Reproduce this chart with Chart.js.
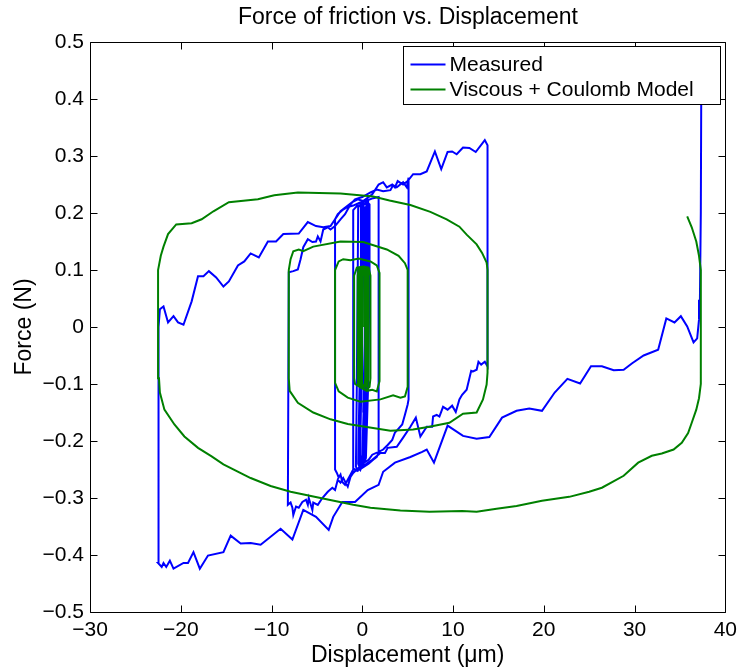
<!DOCTYPE html>
<html>
<head>
<meta charset="utf-8">
<script src="https://cdn.jsdelivr.net/npm/chart.js@4.4.1/dist/chart.umd.min.js"></script>
<style>
  html, body { margin: 0; padding: 0; background: #fff; }
  #wrap { width: 743px; height: 669px; }
</style>
</head>
<body>
<div id="wrap"><canvas id="frictionChart" width="743" height="669"></canvas></div>
<script>
// axis ticks
const xTicks = [-30, -20, -10, 0, 10, 20, 30, 40];
const yTicks = [-0.5, -0.4, -0.3, -0.2, -0.1, 0, 0.1, 0.2, 0.3, 0.4, 0.5];
const seriesNames = ["Measured", "Viscous + Coulomb Model"];

// measured force, [displacement um, force N], in time order
const measuredSweep0 = [
  [37.35,0.42],[37.3,0.2],[37.2,0.048],[37.1,0.013],[36.9,-0.02],[36.5,-0.027],[35.8,0.001],
  [35.1,0.019],[34.4,0.008],[33.5,0.015],[32.6,-0.04],[31.0,-0.05],[29.7,-0.064],[28.8,-0.075],
  [27.7,-0.076],[26.4,-0.069],[25.2,-0.069],[24.0,-0.099],[22.6,-0.091],[21.2,-0.115],[19.8,-0.147],
  [18.4,-0.143],[17.0,-0.147],[15.4,-0.159],[14.0,-0.193],[12.6,-0.196],[11.1,-0.191],[9.4,-0.173],
  [7.9,-0.238],[7.1,-0.215],[6.6,-0.219],[5.3,-0.228],[3.6,-0.238],[2.3,-0.254],[1.8,-0.277],
  [0.6,-0.286],[-0.8,-0.307],[-2.2,-0.307],[-3.2,-0.333],[-3.7,-0.356],[-5.1,-0.333],[-6.5,-0.321],
  [-7.7,-0.373],[-9.0,-0.354],[-11.2,-0.382],[-12.3,-0.379],[-13.4,-0.38],[-14.5,-0.366],
  [-15.3,-0.395],[-17.0,-0.401],[-17.9,-0.424],[-18.6,-0.395],[-19.2,-0.414],[-19.7,-0.414],
  [-20.8,-0.424],[-21.2,-0.41],[-21.6,-0.421],[-21.9,-0.414],[-22.1,-0.421],[-22.5,-0.414],[-22.5,-0.391]
];
const measuredSweep1 = [
  [-22.4,0.0],[-22.3,0.031],[-21.9,0.036],[-21.4,0.008],[-20.8,0.019],[-20.3,0.008],[-19.7,0.004],
  [-18.8,0.045],[-18.1,0.089],[-17.5,0.089],[-16.9,0.098],[-16.1,0.087],[-15.3,0.071],[-14.7,0.08],
  [-13.7,0.108],[-13.0,0.115],[-12.3,0.129],[-11.4,0.122],[-10.4,0.15],[-9.5,0.15],[-8.7,0.163],
  [-7.0,0.164],[-6.0,0.184],[-5.1,0.177],[-4.3,0.175],[-3.5,0.177],[-2.4,0.203],[-1.1,0.219],
  [-0.5,0.224],[0.1,0.221],[1.1,0.233],[1.8,0.25],[2.3,0.254],[2.7,0.245],[3.3,0.25],[3.6,0.245],
  [3.9,0.256],[4.5,0.25],[5.0,0.256],[5.6,0.268],[6.4,0.268],[7.1,0.273],[8.0,0.308],[8.7,0.277],
  [9.4,0.307],[9.9,0.308],[10.4,0.303],[11.1,0.315],[11.8,0.314],[12.5,0.307],[13.5,0.328],[13.8,0.319],
  [13.8,-0.069],[13.5,-0.061],[13.1,-0.066],[12.8,-0.061],[12.6,-0.075],[12.2,-0.078],[12.0,-0.077],
  [11.5,-0.11],[11.0,-0.119],[10.7,-0.127],[10.3,-0.149],[9.9,-0.138],[9.4,-0.145],[8.9,-0.14],
  [8.5,-0.157],[8.2,-0.154],[7.8,-0.157],[7.7,-0.175],[7.1,-0.175],[6.4,-0.192],[5.9,-0.159],
  [5.3,-0.175],[4.5,-0.194],[3.8,-0.21],[2.8,-0.212],[2.5,-0.221],[2.0,-0.221],[1.1,-0.233],
  [0.3,-0.242],[-0.4,-0.247],[-1.0,-0.256],[-1.3,-0.263],[-1.6,-0.28],[-2.1,-0.265],[-2.4,-0.273],
  [-2.7,-0.268],[-3.0,-0.286],[-3.3,-0.282],[-3.8,-0.289],[-4.4,-0.3],[-4.9,-0.312],[-5.4,-0.308],
  [-5.5,-0.321],[-5.9,-0.3],[-6.0,-0.312],[-6.2,-0.303],[-6.6,-0.307],[-7.0,-0.317],[-7.3,-0.315],
  [-7.6,-0.33],[-7.7,-0.317],[-7.9,-0.308],[-8.2,-0.312]
];
const measuredSweep2 = [
  [-8.1,0.096],[-7.6,0.098],[-7.1,0.101],[-6.8,0.119],[-6.5,0.14],[-6.0,0.154],[-5.5,0.149],
  [-5.1,0.15],[-4.9,0.159],[-4.6,0.15],[-4.3,0.171],[-3.8,0.175],[-3.5,0.171],[-3.0,0.177],
  [-2.4,0.189],[-1.9,0.198],[-1.3,0.215],[-0.8,0.224],[0.0,0.228],[0.9,0.236],[1.6,0.241],
  [2.3,0.238],[3.1,0.24],[3.4,0.249],[3.8,0.245],[4.5,0.254],[4.9,0.245],[5.1,0.262],
  [5.1,-0.127],[5.0,-0.136],[4.7,-0.154],[4.4,-0.171],[3.9,-0.18],[3.6,-0.185],[3.3,-0.198],
  [2.8,-0.207],[2.3,-0.215],[1.8,-0.219],[1.1,-0.224],[0.7,-0.233],[0.2,-0.238],[-0.2,-0.247],
  [-0.5,-0.25],[-1.0,-0.25],[-1.3,-0.259],[-1.6,-0.268],[-1.9,-0.277],[-2.2,-0.272],[-2.4,-0.259],
  [-2.6,-0.264],[-2.8,-0.256],[-3.0,-0.25]
];
const measuredSweep3 = [
  [-3.0,0.189],[-2.7,0.198],[-2.2,0.205],[-1.7,0.21],[-1.0,0.213],[-0.3,0.218],[0.5,0.222],
  [1.2,0.226],[1.8,0.228],[1.8,-0.22],[1.6,-0.228],[1.2,-0.233],[0.7,-0.24],[0.2,-0.245],
  [-0.3,-0.25],[-0.7,-0.252],[-1.0,-0.248],
  [-1.0,0.205],[-0.6,0.212],[0.0,0.215],[0.6,0.218],[0.8,0.215],[0.8,0.1],[0.65,-0.1],[0.4,-0.23],
  [0.0,-0.245],[-0.5,-0.252],[-0.7,-0.245],
  [-0.6,-0.1],[-0.5,0.1],[-0.45,0.21],[0.1,0.22],[0.65,0.22],[0.6,0.1],[0.45,-0.1],[0.2,-0.235],
  [-0.2,-0.25],[-0.45,-0.24],
  [-0.3,-0.1],[-0.2,0.1],[-0.15,0.215],[0.3,0.222],[0.55,0.215],[0.5,0.1],[0.35,-0.1],[0.1,-0.23],
  [-0.3,-0.245],
  [-0.2,-0.1],[-0.05,0.1],[0.0,0.212],[0.45,0.218],[0.4,0.05],[0.2,-0.12],[0.0,-0.225],[-0.25,-0.235],
  [-0.1,-0.1],[0.1,0.1],[0.15,0.21],[0.35,0.21],[0.3,0.0],[0.1,-0.15]
];

// model force, spiralling inwards
const modelLoop0 = [
  [35.8,0.194],[36.3,0.175],[36.8,0.15],[37.1,0.125],[37.3,0.1],
  [37.3,-0.1],[37.1,-0.125],[36.8,-0.145],[36.3,-0.168],[35.9,-0.186],[35.2,-0.203],[34.3,-0.215],
  [33.0,-0.222],[31.9,-0.226],[30.4,-0.238],[28.8,-0.261],[26.4,-0.282],[25.0,-0.289],[22.8,-0.298],
  [19.8,-0.305],[17.0,-0.314],[14.8,-0.319],[12.6,-0.324],[11.0,-0.323],[7.4,-0.324],[4.2,-0.322],
  [0.9,-0.317],[-1.0,-0.312],[-4.6,-0.3],[-7.9,-0.289],[-10.1,-0.279],[-12.3,-0.265],[-15.3,-0.241],
  [-16.6,-0.227],[-18.1,-0.212],[-19.6,-0.192],[-20.7,-0.171],[-21.8,-0.145],[-22.3,-0.115],[-22.4,-0.09]
];
const modelLoop1 = [
  [-22.5,0.1],[-22.2,0.125],[-21.9,0.141],[-21.4,0.163],[-20.5,0.18],[-18.8,0.182],[-17.7,0.189],
  [-16.4,0.203],[-14.7,0.219],[-11.5,0.224],[-9.7,0.231],[-7.1,0.236],[-2.4,0.234],[1.2,0.229],
  [3.0,0.222],[5.3,0.214],[7.5,0.202],[9.3,0.189],[10.7,0.176],[11.5,0.162],[12.6,0.145],[13.2,0.13],
  [13.7,0.113],[13.8,0.1],
  [13.8,-0.08],[13.7,-0.101],[13.3,-0.127],[12.6,-0.15],[11.1,-0.152],[9.6,-0.168],[7.4,-0.175],
  [5.6,-0.18],[3.1,-0.182],[-1.6,-0.17],[-3.5,-0.162],[-5.4,-0.15],[-7.1,-0.133],[-8.0,-0.112],[-8.1,-0.09]
];
const modelLoop2 = [
  [-8.1,0.1],[-7.9,0.119],[-7.6,0.133],[-7.0,0.136],[-6.5,0.133],[-5.4,0.141],[-2.4,0.15],[0.1,0.149],
  [2.7,0.136],[4.0,0.125],[4.7,0.112],[5.0,0.1],
  [5.0,-0.105],[4.7,-0.122],[4.2,-0.124],[3.4,-0.12],[2.0,-0.127],[-0.2,-0.131],[-1.6,-0.124],
  [-2.6,-0.113],[-3.0,-0.098],
  [-3.0,0.1],[-2.6,0.115],[-2.1,0.119],[-1.3,0.117],[-0.4,0.12],[0.9,0.115],[1.6,0.108],[1.9,0.095],
  [1.9,-0.095],[1.6,-0.113],[1.1,-0.11],[0.5,-0.112],[-0.2,-0.106],[-0.8,-0.1],[-0.9,-0.09],
  [-0.9,0.09],[-0.6,0.104],[0.1,0.106],[0.7,0.104],[0.9,0.09]
];
const modelLoopCore = [
  [0.9,-0.09],[0.8,-0.105],[0.5,-0.11],[0.0,-0.108],[-0.45,-0.103],[-0.5,-0.09],
  [-0.5,0.09],[-0.4,0.104],[0.2,0.106],[0.6,0.103],[0.65,0.09],
  [0.65,-0.09],[0.55,-0.105],[-0.3,-0.104],[-0.38,-0.09],
  [-0.38,0.09],[-0.3,0.104],[0.5,0.104],[0.55,0.09],
  [0.55,-0.09],[0.45,-0.104],[-0.2,-0.104],[-0.27,-0.09],
  [-0.27,0.09],[-0.2,0.103],[0.4,0.103],[0.45,0.09],
  [0.45,-0.09],[0.35,-0.103],[-0.1,-0.103],[-0.15,-0.09],
  [-0.15,0.09],[-0.1,0.102],[0.3,0.102],[0.33,0.09],
  [0.33,-0.09],[0.25,-0.102],[0.0,-0.102],[-0.03,-0.09],
  [-0.03,0.09],[0.1,0.1],[0.2,0.09],[0.2,0.0]
];

const measured = [...measuredSweep0, ...measuredSweep1, ...measuredSweep2, ...measuredSweep3];
const model = [...modelLoop0, ...modelLoop1, ...modelLoop2, ...modelLoopCore];

const FONT = '"Liberation Sans", Arial, Helvetica, sans-serif';
const minus = (s) => s.replace('-', '\u2212');

// MATLAB style box: frame, inward ticks on all four sides, legend inside top right
const matlabFrame = {
  id: 'matlabFrame',
  afterDraw(chart) {
    const { ctx, chartArea: a, scales } = chart;
    const L = Math.round(a.left) + 0.5, R = Math.round(a.right) + 0.5;
    const T = Math.round(a.top) + 0.5, B = Math.round(a.bottom) + 0.5;
    const tl = 7;
    ctx.save();
    ctx.strokeStyle = '#000';
    ctx.lineWidth = 1;
    ctx.beginPath();
    ctx.rect(L, T, R - L, B - T);
    xTicks.forEach(v => {
      const px = Math.round(scales.x.getPixelForValue(v)) + 0.5;
      ctx.moveTo(px, B); ctx.lineTo(px, B - tl);
      ctx.moveTo(px, T); ctx.lineTo(px, T + tl);
    });
    yTicks.forEach(v => {
      const py = Math.round(scales.y.getPixelForValue(v)) + 0.5;
      ctx.moveTo(L, py); ctx.lineTo(L + tl, py);
      ctx.moveTo(R, py); ctx.lineTo(R - tl, py);
    });
    ctx.stroke();

    // title, centred over the axes box
    ctx.fillStyle = '#000';
    ctx.font = '23px ' + FONT;
    ctx.textAlign = 'center';
    ctx.textBaseline = 'middle';
    ctx.fillText('Force of friction vs. Displacement', (L + R) / 2, 18);

    // legend
    const bx = R - 322, by = T + 4, bw = 317, bh = 58;
    ctx.fillStyle = '#fff';
    ctx.fillRect(bx, by, bw, bh);
    ctx.strokeRect(bx, by, bw, bh);
    ctx.font = '21px ' + FONT;
    ctx.textBaseline = 'middle';
    ctx.textAlign = 'left';
    const colors = ['#0000ff', '#008000'];
    seriesNames.forEach((name, i) => {
      const ry = by + 18 + i * 25;
      ctx.strokeStyle = colors[i];
      ctx.lineWidth = 2;
      ctx.beginPath();
      ctx.moveTo(bx + 7, ry); ctx.lineTo(bx + 42, ry);
      ctx.stroke();
      ctx.fillStyle = '#000';
      ctx.fillText(name, bx + 46, ry + 1);
    });
    ctx.restore();
  }
};

new Chart(document.getElementById('frictionChart'), {
  type: 'scatter',
  data: {
    datasets: [
      {
        label: seriesNames[0],
        data: measured.map(p => ({ x: p[0], y: p[1] })),
        showLine: true,
        borderColor: '#0000ff',
        borderWidth: 2,
        pointRadius: 0,
        tension: 0,
        order: 1
      },
      {
        label: seriesNames[1],
        data: model.map(p => ({ x: p[0], y: p[1] })),
        showLine: true,
        borderColor: '#008000',
        borderWidth: 2,
        pointRadius: 0,
        tension: 0,
        order: 0
      }
    ]
  },
  options: {
    responsive: false,
    animation: false,
    devicePixelRatio: 1,
    layout: { padding: { top: 42, right: 14, left: 0, bottom: 0 } },
    plugins: {
      legend: { display: false },
      tooltip: { enabled: false },
      title: { display: false }
    },
    scales: {
      x: {
        type: 'linear',
        min: -30, max: 40,
        afterBuildTicks: s => { s.ticks = xTicks.map(v => ({ value: v })); },
        afterFit: s => { s.height = 57; },
        grid: { display: false, drawTicks: false },
        border: { display: false },
        ticks: {
          autoSkip: false, maxRotation: 0, padding: 6, color: '#000',
          font: { family: FONT, size: 21 },
          callback: v => minus(String(v))
        },
        title: {
          display: true, text: 'Displacement (\u03bcm)', color: '#000',
          font: { family: FONT, size: 23 },
          padding: { top: 0, bottom: 0 }
        }
      },
      y: {
        type: 'linear',
        min: -0.5, max: 0.5,
        afterBuildTicks: s => { s.ticks = yTicks.map(v => ({ value: v })); },
        afterFit: s => { s.width = 90; },
        grid: { display: false, drawTicks: false },
        border: { display: false },
        ticks: {
          autoSkip: false, padding: 6, color: '#000',
          font: { family: FONT, size: 21 },
          callback: v => (Math.abs(v) < 1e-9 ? '0' : minus(v.toFixed(1)))
        },
        title: {
          display: true, text: 'Force (N)', color: '#000',
          font: { family: FONT, size: 23 },
          padding: { top: 11, bottom: 0 }
        }
      }
    }
  },
  plugins: [matlabFrame]
});
</script>
</body>
</html>
